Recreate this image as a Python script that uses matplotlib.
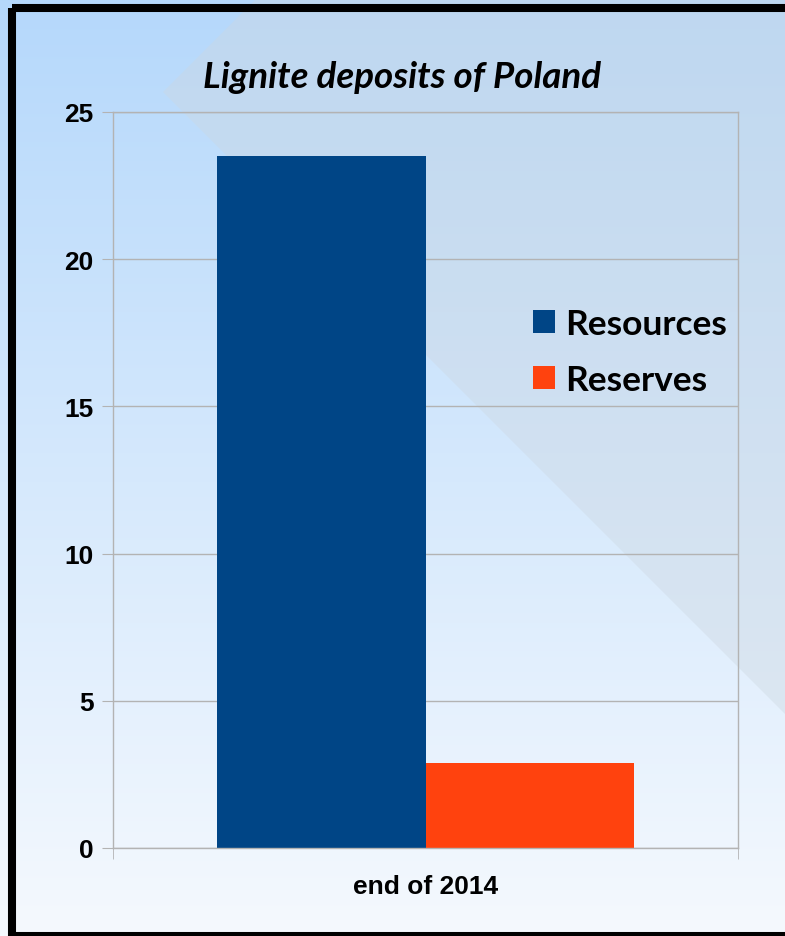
import numpy as np
import matplotlib
matplotlib.use("Agg")
import matplotlib.pyplot as plt
from matplotlib.patches import Rectangle, Polygon

# data
category = ["end of 2014"]
series = ["Resources", "Reserves"]
values = [23.5, 2.9]
colors = ["#004586", "#ff420e"]
yticks = [0, 5, 10, 15, 20, 25]
title = "Lignite deposits of Poland"

W, H = 785, 937
fig = plt.figure(figsize=(W / 100, H / 100), dpi=100)

# background: vertical gradient, light diagonal band, black frame
bg = fig.add_axes([0, 0, 1, 1], zorder=0)
bg.set_xlim(0, W)
bg.set_ylim(H, 0)
bg.axis("off")
top = np.array([181, 216, 251]) / 255
bot = np.array([245, 249, 254]) / 255
t = np.linspace(0, 1, 256)[:, None]
grad = (top[None, :] * (1 - t) + bot[None, :] * t)[:, None, :]
bg.imshow(grad, extent=(0, W, H, 0), aspect="auto", interpolation="bilinear")
bg.add_patch(Polygon([(163, 93), (263, -7), (800, -7), (800, 730)],
                     closed=True, facecolor=(205/255, 215/255, 225/255),
                     alpha=0.4, edgecolor="none"))
bg.add_patch(Rectangle((12, 9), 790, 928, fill=False, edgecolor="black",
                       linewidth=5.8))
bg.set_xlim(0, W)
bg.set_ylim(H, 0)

# chart
ax = fig.add_axes([113 / W, 88 / H, 625 / W, 736 / H], zorder=1)
ax.patch.set_alpha(0)
x = np.arange(len(category))
bw = 1 / 3
for i, (name, v, c) in enumerate(zip(series, values, colors)):
    ax.bar(x + (i - 0.5) * bw, [v], width=bw, color=c, label=name, zorder=2)

ax.set_xlim(-0.5, 0.5)
ax.set_ylim(0, 25)
ax.set_yticks(yticks)
ax.set_yticklabels([str(v) for v in yticks])
ax.set_xticks(x)
ax.set_xticklabels(category)
ax.set_xticks([-0.5, 0.5], minor=True)
ax.yaxis.grid(True, color="#b3b3b3", linewidth=1, zorder=1)
ax.set_axisbelow(True)
for s in ax.spines.values():
    s.set_color("#b3b3b3")
    s.set_linewidth(1)
ax.tick_params(axis="y", length=8, color="#b3b3b3", pad=6)
ax.tick_params(axis="x", which="major", length=0, pad=19)
ax.tick_params(axis="x", which="minor", length=8, color="#b3b3b3")
for lab in ax.get_yticklabels() + ax.get_xticklabels():
    lab.set_fontfamily(["Liberation Sans", "DejaVu Sans"])
    lab.set_fontweight("bold")
    lab.set_fontsize(19)

leg = ax.legend(loc="center left", bbox_to_anchor=(0.621, 0.674),
                frameon=False, handlelength=0.62, handleheight=0.62,
                handletextpad=0.28, labelspacing=0.7,
                prop={"family": ["Lato", "DejaVu Sans"], "weight": "bold",
                      "size": 25.5})

fig.text(402 / W, 1 - 88 / H, title, ha="center", va="baseline",
         fontfamily=["Lato", "DejaVu Sans"], fontweight="bold",
         fontstyle="italic", fontsize=26.5)

fig.savefig("out.png", dpi=100)
